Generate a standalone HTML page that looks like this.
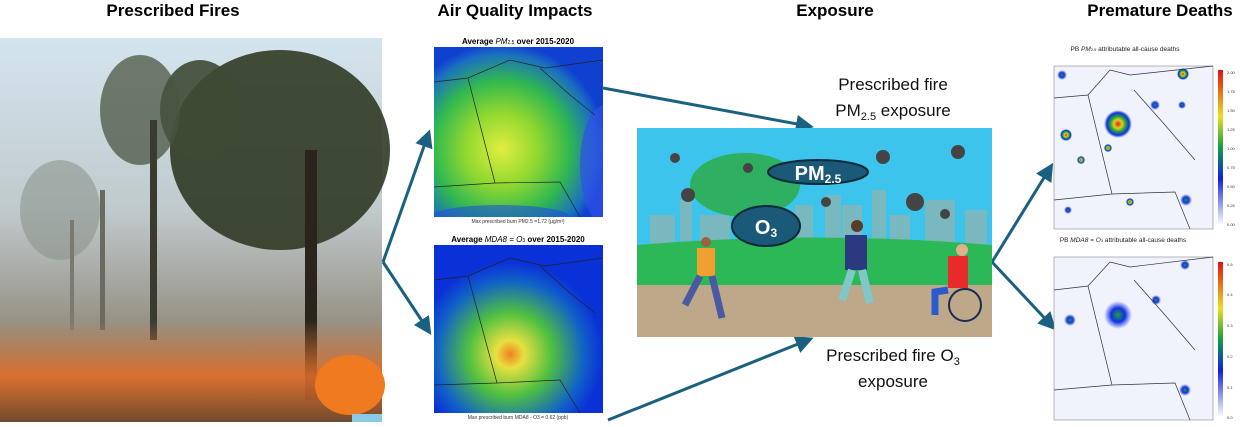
<!DOCTYPE html>
<html><head><meta charset="utf-8"><style>
body{margin:0;background:#fff;width:1250px;height:422px;overflow:hidden;font-family:"Liberation Sans",sans-serif}
</style></head><body>
<svg width="1250" height="422" viewBox="0 0 1250 422" xmlns="http://www.w3.org/2000/svg" font-family="Liberation Sans, sans-serif">
<defs>
<linearGradient id="sky" x1="0" y1="0" x2="0" y2="1"><stop offset="0" stop-color="#d4e4ee"/><stop offset="0.45" stop-color="#c0cacc"/><stop offset="0.72" stop-color="#9a968a"/><stop offset="1" stop-color="#6a5540"/></linearGradient>
<linearGradient id="fire" x1="0" y1="0" x2="0" y2="1"><stop offset="0" stop-color="#e88a40" stop-opacity="0"/><stop offset="0.55" stop-color="#e8702a" stop-opacity="0.85"/><stop offset="1" stop-color="#6e4a2c"/></linearGradient>
<radialGradient id="pm" cx="0.4" cy="0.6" r="0.62"><stop offset="0" stop-color="#e0ee40"/><stop offset="0.35" stop-color="#90d830"/><stop offset="0.65" stop-color="#30b850"/><stop offset="0.9" stop-color="#1a70c0"/><stop offset="1" stop-color="#1040d0"/></radialGradient>
<radialGradient id="o3" cx="0.45" cy="0.65" r="0.55"><stop offset="0" stop-color="#f08020"/><stop offset="0.15" stop-color="#e8e040"/><stop offset="0.45" stop-color="#50c040"/><stop offset="0.8" stop-color="#1060c8"/><stop offset="1" stop-color="#0a30d8"/></radialGradient>
<radialGradient id="blob"><stop offset="0" stop-color="#e02020"/><stop offset="0.3" stop-color="#e0d020"/><stop offset="0.55" stop-color="#20a040"/><stop offset="0.8" stop-color="#1030e0"/><stop offset="1" stop-color="#2040f0" stop-opacity="0"/></radialGradient>
<radialGradient id="blob2"><stop offset="0" stop-color="#20a040"/><stop offset="0.5" stop-color="#1030e0"/><stop offset="1" stop-color="#2040f0" stop-opacity="0"/></radialGradient>
<linearGradient id="cb1" x1="0" y1="1" x2="0" y2="0"><stop offset="0" stop-color="#fff"/><stop offset="0.3" stop-color="#1020e0"/><stop offset="0.5" stop-color="#10a040"/><stop offset="0.7" stop-color="#e8e020"/><stop offset="1" stop-color="#e01010"/></linearGradient>
<clipPath id="c1"><rect x="434" y="47" width="169" height="170"/></clipPath>
<clipPath id="c2"><rect x="434" y="245" width="169" height="168"/></clipPath>
<marker id="ah" markerWidth="6" markerHeight="6" refX="4" refY="3" orient="auto"><path d="M0,0 L6,3 L0,6 z" fill="#1a6080"/></marker>
</defs>

<g font-weight="bold" font-size="17" text-anchor="middle" fill="#000">
<text x="173" y="16">Prescribed Fires</text>
<text x="515" y="16">Air Quality Impacts</text>
<text x="835" y="16">Exposure</text>
<text x="1160" y="16">Premature Deaths</text>
</g>

<g>
<rect x="0" y="38" width="382" height="384" fill="url(#sky)"/>
<ellipse cx="280" cy="150" rx="110" ry="100" fill="#2f3a24" opacity="0.9"/>
<ellipse cx="200" cy="110" rx="40" ry="50" fill="#3e4a34" opacity="0.9"/>
<ellipse cx="140" cy="110" rx="40" ry="55" fill="#4a5540" opacity="0.75"/>
<ellipse cx="60" cy="210" rx="40" ry="50" fill="#8a948c" opacity="0.6"/>
<rect x="150" y="120" width="7" height="220" fill="#3a3a30"/>
<rect x="305" y="150" width="12" height="250" fill="#2a241c"/>
<rect x="100" y="190" width="5" height="140" fill="#6a6a60"/>
<rect x="70" y="220" width="4" height="110" fill="#7a7a72"/>
<rect x="0" y="320" width="382" height="102" fill="url(#fire)"/>
<ellipse cx="350" cy="385" rx="35" ry="30" fill="#f07a20"/>
<rect x="352" y="414" width="30" height="8" fill="#8ac8e8"/>
</g>

<g>
<text x="518" y="44" font-size="8" font-weight="bold" text-anchor="middle">Average <tspan font-style="italic" font-weight="normal">PM</tspan><tspan font-size="5" font-weight="normal">2.5</tspan> over 2015-2020</text>
<rect x="434" y="47" width="169" height="170" fill="url(#pm)"/>
<g clip-path="url(#c1)"><ellipse cx="605" cy="165" rx="25" ry="60" fill="#3050e8" opacity="0.7"/><ellipse cx="500" cy="217" rx="70" ry="12" fill="#2050d8" opacity="0.6"/></g>
<path d="M434,82 L468,78 L510,60 L545,68 L603,60 M468,78 L495,183 L560,182 L580,217 M434,187 L495,183 M540,68 L570,95 L595,115" stroke="#222" stroke-width="0.7" fill="none"/>
<text x="518" y="223" font-size="5" text-anchor="middle" fill="#333">Max prescribed burn PM2.5 =1.72 (µg/m³)</text>
</g>
<g>
<text x="518" y="242" font-size="8" font-weight="bold" text-anchor="middle">Average <tspan font-style="italic" font-weight="normal">MDA8 = O</tspan><tspan font-size="5" font-weight="normal">3</tspan> over 2015-2020</text>
<rect x="434" y="245" width="169" height="168" fill="url(#o3)"/>
<path d="M434,280 L468,276 L510,258 L545,266 L603,258 M468,276 L497,383 L560,380 L580,413 M434,385 L497,383 M540,266 L570,293 L595,313" stroke="#222" stroke-width="0.7" fill="none"/>
<text x="518" y="419" font-size="5" text-anchor="middle" fill="#333">Max prescribed burn MDA8 - O3 = 0.62 (ppb)</text>
</g>

<g stroke="#1a6080" stroke-width="3" fill="none" marker-end="url(#ah)">
<line x1="383" y1="262" x2="428" y2="135"/>
<line x1="383" y1="262" x2="428" y2="330"/>
<line x1="603" y1="88" x2="808" y2="126"/>
<line x1="608" y1="420" x2="808" y2="340"/>
<line x1="992" y1="262" x2="1050" y2="168"/>
<line x1="992" y1="262" x2="1052" y2="326"/>
</g>

<g font-size="17" text-anchor="middle" fill="#111">
<text x="893" y="90">Prescribed fire</text>
<text x="893" y="116">PM<tspan font-size="11" dy="4">2.5</tspan><tspan dy="-4"> exposure</tspan></text>
<text x="893" y="361">Prescribed fire O<tspan font-size="11" dy="4">3</tspan></text>
<text x="893" y="387">exposure</text>
</g>

<g>
<rect x="637" y="128" width="355" height="209" fill="#3cc4ec"/>
<g fill="#7ab8c0">
<rect x="650" y="215" width="25" height="35"/><rect x="680" y="200" width="12" height="50"/><rect x="700" y="215" width="30" height="30"/><rect x="795" y="205" width="18" height="45"/><rect x="825" y="195" width="16" height="55"/><rect x="842" y="205" width="20" height="45"/><rect x="872" y="190" width="14" height="60"/><rect x="890" y="215" width="20" height="35"/><rect x="925" y="200" width="30" height="50"/><rect x="965" y="210" width="22" height="40"/>
</g>
<ellipse cx="745" cy="185" rx="55" ry="32" fill="#2eb060"/>
<rect x="738" y="215" width="8" height="35" fill="#b08060"/>
<path d="M637,245 Q815,230 992,245 L992,300 L637,300 Z" fill="#2db858"/>
<rect x="637" y="285" width="355" height="52" fill="#bda88a"/>
<ellipse cx="818" cy="172" rx="50" ry="12" fill="#1a5a78" stroke="#0a2a3a" stroke-width="2"/>
<text x="818" y="180" font-size="20" font-weight="bold" fill="#fff" text-anchor="middle">PM<tspan font-size="12" dy="3">2.5</tspan></text>
<ellipse cx="766" cy="226" rx="34" ry="20" fill="#1a5a78" stroke="#0a2a3a" stroke-width="2"/>
<text x="766" y="234" font-size="20" font-weight="bold" fill="#fff" text-anchor="middle">O<tspan font-size="12" dy="3">3</tspan></text>
<g fill="#444"><circle cx="675" cy="158" r="5"/><circle cx="748" cy="168" r="5"/><circle cx="688" cy="195" r="7"/><circle cx="826" cy="202" r="5"/><circle cx="883" cy="157" r="7"/><circle cx="958" cy="152" r="7"/><circle cx="915" cy="202" r="9"/><circle cx="945" cy="214" r="5"/></g>
<g>
<rect x="697" y="248" width="18" height="28" fill="#f0a030"/><path d="M700,276 L685,305 M712,276 L722,318" stroke="#4a5aa0" stroke-width="7"/><circle cx="706" cy="242" r="5" fill="#a06040"/>
<rect x="845" y="235" width="22" height="35" fill="#2a3a80"/><path d="M852,270 L842,300 M862,270 L870,303" stroke="#80c8c8" stroke-width="8"/><circle cx="857" cy="226" r="6" fill="#5a3a2a"/>
<rect x="948" y="256" width="20" height="32" fill="#e82a2a"/><path d="M948,290 L935,292 L935,315" stroke="#2a5ad0" stroke-width="7" fill="none"/><circle cx="962" cy="250" r="6" fill="#e0b090"/>
<circle cx="965" cy="305" r="16" fill="none" stroke="#1a2a50" stroke-width="2"/>
</g>
</g>

<g>
<text x="1125" y="51" font-size="6.5" text-anchor="middle" fill="#222">PB <tspan font-style="italic">PM</tspan><tspan font-size="4">2.5</tspan> attributable all-cause deaths</text>
<rect x="1054" y="66" width="159" height="163" fill="#f0f2fc" stroke="#888" stroke-width="0.6"/>
<circle cx="1118" cy="124" r="14" fill="url(#blob)"/><circle cx="1066" cy="135" r="6" fill="url(#blob)"/><circle cx="1183" cy="74" r="6" fill="url(#blob)"/><circle cx="1081" cy="160" r="4" fill="url(#blob)"/><circle cx="1108" cy="148" r="4" fill="url(#blob)"/><circle cx="1186" cy="200" r="6" fill="url(#blob2)"/><circle cx="1130" cy="202" r="4" fill="url(#blob)"/><circle cx="1155" cy="105" r="5" fill="url(#blob2)"/><circle cx="1182" cy="105" r="4" fill="url(#blob2)"/><circle cx="1068" cy="210" r="4" fill="url(#blob2)"/><circle cx="1062" cy="75" r="5" fill="url(#blob2)"/>
<path d="M1054,98 L1088,95 L1110,70 L1130,75 L1213,66 M1088,95 L1112,194 L1175,192 L1190,229 M1054,200 L1112,194 M1134,90 L1165,125 L1195,160" stroke="#333" stroke-width="0.7" fill="none"/>
<rect x="1218" y="70" width="5" height="155" fill="url(#cb1)"/>
<g font-size="4" fill="#333"><text x="1227" y="74">2.00</text><text x="1227" y="93">1.75</text><text x="1227" y="112">1.50</text><text x="1227" y="131">1.25</text><text x="1227" y="150">1.00</text><text x="1227" y="169">0.75</text><text x="1227" y="188">0.50</text><text x="1227" y="207">0.25</text><text x="1227" y="226">0.00</text></g>
</g>
<g>
<text x="1123" y="242" font-size="6.5" text-anchor="middle" fill="#222">PB <tspan font-style="italic">MDA8 = O</tspan><tspan font-size="4">3</tspan> attributable all-cause deaths</text>
<rect x="1054" y="257" width="159" height="163" fill="#f0f2fc" stroke="#888" stroke-width="0.6"/>
<circle cx="1118" cy="315" r="14" fill="url(#blob2)"/><circle cx="1070" cy="320" r="6" fill="url(#blob2)"/><circle cx="1185" cy="265" r="5" fill="url(#blob2)"/><circle cx="1185" cy="390" r="6" fill="url(#blob2)"/><circle cx="1156" cy="300" r="5" fill="url(#blob2)"/>
<path d="M1054,290 L1088,286 L1110,262 L1130,267 L1213,257 M1088,286 L1112,385 L1175,383 L1190,420 M1054,390 L1112,385 M1134,280 L1165,315 L1195,350" stroke="#333" stroke-width="0.7" fill="none"/>
<rect x="1218" y="262" width="5" height="155" fill="url(#cb1)"/>
<g font-size="4" fill="#333"><text x="1227" y="266">0.5</text><text x="1227" y="296">0.4</text><text x="1227" y="327">0.3</text><text x="1227" y="358">0.2</text><text x="1227" y="389">0.1</text><text x="1227" y="419">0.0</text></g>
</g>
</svg>
</body></html>
